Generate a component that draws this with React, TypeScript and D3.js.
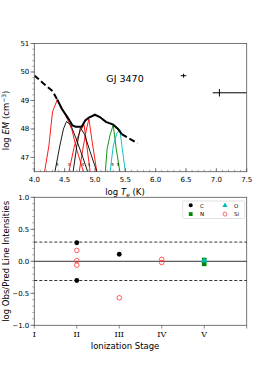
import React from 'react';
import * as d3 from 'd3';

// EM distribution (log T, log EM)
const emDashLow: [number, number][] = [[4.0, 49.88], [4.15, 49.6], [4.3, 49.33], [4.38, 49.03]];
const emSolid: [number, number][] = [
  [4.38, 49.03], [4.45, 48.72], [4.55, 48.4], [4.63, 48.12], [4.68, 48.08], [4.78, 48.08],
  [4.84, 48.3], [4.9, 48.4], [5.0, 48.5], [5.08, 48.42], [5.18, 48.25], [5.3, 48.15],
  [5.38, 48.0], [5.44, 47.82],
];
const emDashHigh: [number, number][] = [[5.44, 47.82], [5.55, 47.68], [5.7, 47.5]];

// emission measure loci of the lines
const siII: [number, number][] = [[4.17, 46.5], [4.24, 47.4], [4.3, 48.6], [4.38, 49.03], [4.5, 48.56], [4.62, 47.97], [4.7, 47.27], [4.81, 46.5]];
const siIII: [number, number][] = [[4.57, 46.5], [4.66, 47.4], [4.75, 47.9], [4.82, 48.15], [4.86, 47.5], [4.92, 46.5]];
const siIV: [number, number][] = [[4.74, 46.5], [4.8, 47.3], [4.86, 48.0], [4.9, 48.35], [4.95, 47.6], [5.03, 46.5]];
const cII: [number, number][] = [[4.34, 46.5], [4.42, 47.4], [4.48, 48.0], [4.53, 48.26], [4.6, 48.15], [4.7, 47.6], [4.8, 47.0], [4.88, 46.5]];
const cIII: [number, number][] = [[4.64, 46.5], [4.7, 47.4], [4.76, 48.05], [4.83, 47.8], [4.92, 47.2], [5.03, 46.5]];
const nV: [number, number][] = [[5.17, 46.5], [5.2, 47.3], [5.25, 47.8], [5.3, 48.14], [5.35, 47.3], [5.41, 46.5]];
const oV: [number, number][] = [[5.25, 46.5], [5.3, 47.4], [5.36, 47.85], [5.41, 47.97], [5.45, 47.3], [5.5, 46.5]];
const lociList = [siII, siIII, siIV, cII, cIII, nV, oV];
const lociColors = ['#ff0000', '#ff0000', '#ff0000', '#000000', '#000000', '#008800', '#00bbbb'];

const lociLabelT = [4.38, 4.57, 4.8, 4.9, 5.29, 5.38];
const lociLabelText = ['5', '3', '4', '4', '5', '5'];

// X-ray points: [logT, logEM, dT, dEM]
const xrayPts: [number, number, number, number][] = [[6.46, 49.87, 0.045, 0.07], [7.05, 49.27, 0.11, 0.13]];

// bottom panel: ionization stage, log obs/pred
const cPts: [number, number][] = [[2, 0.29], [2, -0.3], [3, 0.11]];
const nPts: [number, number][] = [[5, 0.02], [5, -0.04]];
const oPts: [number, number][] = [[5, 0.01]];
const siPts: [number, number][] = [[2, 0.17], [2, 0.01], [2, -0.06], [3, -0.57], [4, 0.03], [4, -0.02]];

const stageLabels = ['I', 'II', 'III', 'IV', 'V'];
const topXTicks = [4.0, 4.5, 5.0, 5.5, 6.0, 6.5, 7.0, 7.5];
const topYTicks = [47, 48, 49, 50, 51];
const botYTicks = [-1.0, -0.5, 0.0, 0.5, 1.0];

const font = 'DejaVu Sans, sans-serif';
const frameColor = '#555';

export default function App() {
  const L = 34.3, R = 246.7;
  const x1 = d3.scaleLinear().domain([4.0, 7.5]).range([L, R]);
  const y1 = d3.scaleLinear().domain([46.5, 51]).range([171.7, 43.5]);
  const x2 = d3.scaleLinear().domain([1, 6]).range([L, R]);
  const y2 = d3.scaleLinear().domain([-1, 1]).range([325.3, 197.3]);

  const line1 = d3.line<[number, number]>().x(d => x1(d[0])).y(d => y1(d[1]));

  const topMinorX = d3.range(4.0, 7.51, 0.1);
  const topMinorY = d3.range(46.6, 51.01, 0.2);
  const botMinorY = d3.range(-1.0, 1.01, 0.1);

  const sym = d3.symbol().type(d3.symbolTriangle).size(18);

  return (
    <svg width={274} height={366} style={{ position: 'absolute', left: 0, top: 0, background: '#fff' }} fontFamily={font}>
      <defs>
        <clipPath id="c1"><rect x={L} y={43.5} width={R - L} height={171.7 - 43.5} /></clipPath>
      </defs>

      {/* ---------- top panel ---------- */}
      <g clipPath="url(#c1)">
        {lociList.map((c, i) => (
          <path key={i} d={line1(c) || ''} fill="none" stroke={lociColors[i]} strokeWidth={0.9} />
        ))}
        <path d={line1(emDashLow) || ''} fill="none" stroke="#000" strokeWidth={2} strokeDasharray="6,3" />
        <path d={line1(emSolid) || ''} fill="none" stroke="#000" strokeWidth={2} />
        <path d={line1(emDashHigh) || ''} fill="none" stroke="#000" strokeWidth={2} strokeDasharray="6,3" />
        {xrayPts.map((p, i) => (
          <g key={i} stroke="#000" strokeWidth={1}>
            <line x1={x1(p[0] - p[2])} x2={x1(p[0] + p[2]) + (i === 1 ? 40 : 0)} y1={y1(p[1])} y2={y1(p[1])} />
            <line x1={x1(p[0])} x2={x1(p[0])} y1={y1(p[1] - p[3])} y2={y1(p[1] + p[3])} />
          </g>
        ))}
        {lociLabelT.map((t, i) => (
          <text key={i} x={x1(t)} y={y1(46.7)} fontSize={4} textAnchor="middle">{lociLabelText[i]}</text>
        ))}
      </g>
      <text x={125} y={82} fontSize={9.5} textAnchor="middle">GJ 3470</text>

      <rect x={L} y={43.5} width={R - L} height={171.7 - 43.5} fill="none" stroke={frameColor} strokeWidth={0.8} />
      {topMinorX.map((t, i) => (
        <line key={i} x1={x1(t)} x2={x1(t)} y1={171.7} y2={169.7} stroke={frameColor} strokeWidth={0.5} />
      ))}
      {topXTicks.map(t => (
        <g key={t}>
          <line x1={x1(t)} x2={x1(t)} y1={171.7} y2={168} stroke={frameColor} strokeWidth={0.7} />
          <text x={x1(t)} y={182} fontSize={7} textAnchor="middle">{t.toFixed(1)}</text>
        </g>
      ))}
      {topMinorY.map((v, i) => (
        <line key={i} x1={L - 2} x2={L} y1={y1(v)} y2={y1(v)} stroke={frameColor} strokeWidth={0.5} />
      ))}
      {topYTicks.map(v => (
        <g key={v}>
          <line x1={L - 4} x2={L} y1={y1(v)} y2={y1(v)} stroke={frameColor} strokeWidth={0.7} />
          <text x={L - 5} y={y1(v) + 2.5} fontSize={7} textAnchor="end">{v}</text>
        </g>
      ))}
      <text x={125} y={195} fontSize={8.5} textAnchor="middle">
        log <tspan fontStyle="italic">T</tspan><tspan fontStyle="italic" fontSize={6} dy={2}>e</tspan><tspan dy={-2}> (K)</tspan>
      </text>
      <text transform={`translate(9,${y1(48.3)}) rotate(-90)`} fontSize={8.5} textAnchor="middle">
        log <tspan fontStyle="italic">EM</tspan> (cm<tspan fontSize={6} dy={-3}>−3</tspan><tspan dy={3}>)</tspan>
      </text>

      {/* ---------- bottom panel ---------- */}
      <rect x={L} y={197.3} width={R - L} height={128} fill="none" stroke={frameColor} strokeWidth={0.8} />
      <line x1={L} x2={R} y1={y2(0)} y2={y2(0)} stroke="#000" strokeWidth={0.8} />
      <line x1={L} x2={R} y1={y2(0.3)} y2={y2(0.3)} stroke="#000" strokeWidth={0.8} strokeDasharray="3,2" />
      <line x1={L} x2={R} y1={y2(-0.3)} y2={y2(-0.3)} stroke="#000" strokeWidth={0.8} strokeDasharray="3,2" />

      {botMinorY.map((v, i) => (
        <line key={i} x1={L - 2} x2={L} y1={y2(v)} y2={y2(v)} stroke={frameColor} strokeWidth={0.5} />
      ))}
      {botYTicks.map(v => (
        <g key={v}>
          <line x1={L - 4} x2={L} y1={y2(v)} y2={y2(v)} stroke={frameColor} strokeWidth={0.7} />
          <text x={L - 5} y={y2(v) + 2.5} fontSize={7} textAnchor="end">{v < 0 ? '−' + Math.abs(v).toFixed(1) : v.toFixed(1)}</text>
        </g>
      ))}
      {stageLabels.map((s, i) => (
        <g key={s}>
          <line x1={x2(i + 1)} x2={x2(i + 1)} y1={325.3} y2={328.5} stroke={frameColor} strokeWidth={0.7} />
          <text x={x2(i + 1)} y={337} fontSize={8} textAnchor="middle" fontFamily="DejaVu Serif, serif">{s}</text>
        </g>
      ))}
      <line x1={x2(6)} x2={x2(6)} y1={325.3} y2={328.5} stroke={frameColor} strokeWidth={0.7} />
      <text x={125} y={349} fontSize={8.5} textAnchor="middle">Ionization Stage</text>
      <text transform={`translate(9,${y2(0)}) rotate(-90)`} fontSize={8.5} textAnchor="middle">log Obs/Pred Line Intensities</text>

      {siPts.map((p, i) => (
        <circle key={'si' + i} cx={x2(p[0])} cy={y2(p[1])} r={2.3} fill="none" stroke="#ff3333" strokeWidth={0.8} />
      ))}
      {cPts.map((p, i) => (
        <circle key={'c' + i} cx={x2(p[0])} cy={y2(p[1])} r={2.4} fill="#000" />
      ))}
      {nPts.map((p, i) => (
        <rect key={'n' + i} x={x2(p[0]) - 2.3} y={y2(p[1]) - 2.3} width={4.6} height={4.6} fill="#008800" />
      ))}
      {oPts.map((p, i) => (
        <path key={'o' + i} d={sym() || ''} transform={`translate(${x2(p[0])},${y2(p[1])})`} fill="#00bbbb" />
      ))}

      {/* legend */}
      <rect x={182.7} y={201} width={62} height={17.5} fill="#fff" stroke="#ccc" strokeWidth={0.6} rx={1} />
      <circle cx={190.7} cy={205.3} r={2} fill="#000" />
      <text x={200} y={207.5} fontSize={5.5}>C</text>
      <rect x={188.8} y={212.2} width={3.8} height={3.8} fill="#008800" />
      <text x={200} y={216.2} fontSize={5.5}>N</text>
      <path d={d3.symbol().type(d3.symbolTriangle).size(12)() || ''} transform="translate(225,205.6)" fill="#00bbbb" />
      <text x={234} y={207.5} fontSize={5.5}>O</text>
      <circle cx={225} cy={214.1} r={2} fill="none" stroke="#ff3333" strokeWidth={0.7} />
      <text x={234} y={216.2} fontSize={5.5}>Si</text>
    </svg>
  );
}
